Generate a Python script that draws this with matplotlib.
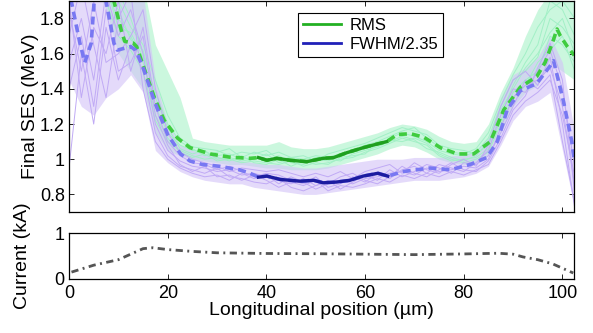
import numpy as np
import matplotlib
matplotlib.use('Agg')
import matplotlib.pyplot as plt

plt.rcParams['font.family'] = ['Liberation Sans', 'DejaVu Sans']

# sampling grid of the individual shots (um)
pos = [0, 2.5, 5, 7.5, 10, 12.5, 15, 17.5, 20, 22.5, 25, 27.5, 30, 32.5, 35,
       37.5, 40, 42.5, 45, 47.5, 50, 52.5, 55, 57.5, 60, 62.5, 65, 67.5, 70,
       72.5, 75, 77.5, 80, 82.5, 85, 87.5, 90, 92.5, 95, 97.5, 100, 102.5]

# spread of all FWHM/2.35 shots (MeV)
fwhm_low = [1.45, 1.30, 1.25, 1.35, 1.40, 1.48, 1.38, 1.05, 0.98, 0.93, 0.90,
            0.88, 0.87, 0.86, 0.86, 0.84, 0.83, 0.82, 0.81, 0.80, 0.80, 0.81,
            0.82, 0.83, 0.84, 0.85, 0.86, 0.87, 0.88, 0.88, 0.88, 0.89, 0.90,
            0.92, 0.96, 1.08, 1.22, 1.30, 1.33, 1.38, 1.05, 0.72]
fwhm_high = [2.1, 2.1, 2.1, 2.1, 2.1, 2.1, 1.95, 1.45, 1.20, 1.08, 1.05, 1.03,
             1.02, 1.00, 0.99, 0.98, 0.97, 0.97, 0.96, 0.95, 0.95, 0.96, 0.97,
             0.98, 0.99, 1.00, 1.00, 1.00, 1.01, 1.01, 1.01, 1.02, 1.02, 1.05,
             1.12, 1.35, 1.48, 1.52, 1.58, 1.70, 1.55, 1.15]

# spread of all RMS shots (MeV)
rms_low = [2.0, 2.0, 2.0, 1.85, 1.60, 1.50, 1.40, 1.15, 1.05, 1.02, 1.00, 0.99,
           0.98, 0.97, 0.97, 0.96, 0.95, 0.95, 0.94, 0.94, 0.94, 0.95, 0.97,
           0.99, 1.01, 1.03, 1.06, 1.08, 1.07, 1.04, 1.00, 0.98, 0.97, 0.98,
           1.02, 1.15, 1.30, 1.38, 1.42, 1.55, 1.50, 1.45]
rms_high = [2.1, 2.1, 2.1, 2.1, 2.1, 2.1, 2.0, 1.65, 1.50, 1.35, 1.12, 1.10,
            1.09, 1.08, 1.08, 1.08, 1.08, 1.10, 1.07, 1.06, 1.06, 1.07, 1.09,
            1.11, 1.13, 1.15, 1.18, 1.20, 1.19, 1.17, 1.13, 1.10, 1.09, 1.10,
            1.20, 1.38, 1.52, 1.70, 1.85, 1.95, 1.95, 1.90]

# a few single shots
fwhm_shots = [
    [1.55, 1.80, 1.45, 1.95, 1.70, 1.85, 1.60, 1.20, 1.05, 0.99, 0.96, 0.95, 0.93, 0.94,
     0.91, 0.92, 0.90, 0.88, 0.86, 0.89, 0.85, 0.87, 0.88, 0.86, 0.89, 0.90, 0.92, 0.93,
     0.91, 0.95, 0.93, 0.94, 0.96, 0.95, 1.00, 1.18, 1.35, 1.42, 1.45, 1.52, 1.30, 0.85],
    [1.90, 1.35, 1.75, 1.60, 1.90, 1.50, 1.75, 1.30, 1.10, 1.02, 0.98, 0.97, 0.94, 0.96,
     0.93, 0.90, 0.92, 0.91, 0.88, 0.86, 0.90, 0.84, 0.86, 0.90, 0.87, 0.92, 0.89, 0.94,
     0.96, 0.92, 0.97, 0.95, 0.93, 0.98, 1.05, 1.25, 1.40, 1.38, 1.50, 1.62, 1.40, 0.95],
    [0.95, 1.60, 1.20, 1.75, 1.45, 1.65, 1.50, 1.15, 1.02, 0.96, 0.94, 0.92, 0.95, 0.90,
     0.89, 0.87, 0.86, 0.89, 0.84, 0.82, 0.85, 0.88, 0.83, 0.87, 0.91, 0.88, 0.94, 0.90,
     0.93, 0.97, 0.95, 0.92, 0.98, 0.97, 1.02, 1.15, 1.30, 1.45, 1.40, 1.48, 1.10, 0.75],
    [1.70, 2.00, 1.65, 1.35, 1.80, 1.95, 1.40, 1.10, 1.00, 0.95, 0.92, 0.90, 0.91, 0.88,
     0.92, 0.89, 0.91, 0.86, 0.90, 0.87, 0.83, 0.86, 0.90, 0.92, 0.88, 0.86, 0.90, 0.96,
     0.92, 0.90, 0.94, 0.98, 0.94, 0.93, 0.99, 1.12, 1.28, 1.36, 1.52, 1.66, 1.45, 0.80],
    [1.85, 1.50, 1.90, 1.55, 1.60, 1.70, 1.85, 1.40, 1.15, 1.04, 1.00, 0.98, 0.96, 0.93,
     0.95, 0.94, 0.93, 0.94, 0.92, 0.90, 0.92, 0.90, 0.93, 0.89, 0.93, 0.95, 0.97, 0.92,
     0.98, 0.94, 0.92, 0.97, 1.00, 0.96, 1.08, 1.30, 1.45, 1.50, 1.42, 1.58, 1.20, 0.72],
    [1.40, 1.70, 1.30, 1.85, 1.50, 1.55, 1.70, 1.25, 1.08, 0.97, 0.93, 0.96, 0.90, 0.91,
     0.88, 0.91, 0.88, 0.84, 0.87, 0.85, 0.88, 0.82, 0.85, 0.84, 0.86, 0.89, 0.87, 0.91,
     0.89, 0.92, 0.90, 0.93, 0.91, 0.94, 0.97, 1.10, 1.25, 1.33, 1.38, 1.45, 1.25, 0.90],
]
rms_shots = [
    [2.05, 2.10, 2.05, 1.95, 1.80, 1.70, 1.55, 1.30, 1.15, 1.08, 1.05, 1.04, 1.02, 1.03,
     1.00, 1.01, 0.99, 1.02, 0.98, 0.97, 1.00, 0.99, 1.02, 1.04, 1.06, 1.08, 1.12, 1.15,
     1.13, 1.10, 1.05, 1.03, 1.02, 1.04, 1.12, 1.30, 1.45, 1.50, 1.58, 1.80, 1.75, 1.65],
    [2.10, 2.05, 2.10, 2.00, 1.90, 1.75, 1.65, 1.45, 1.25, 1.12, 1.07, 1.06, 1.05, 1.02,
     1.04, 1.03, 1.05, 1.00, 1.01, 1.02, 0.99, 1.03, 1.05, 1.07, 1.09, 1.12, 1.15, 1.18,
     1.16, 1.14, 1.08, 1.06, 1.05, 1.03, 1.08, 1.25, 1.42, 1.55, 1.65, 1.90, 1.85, 1.70],
    [2.00, 2.05, 2.00, 1.90, 1.70, 1.62, 1.50, 1.22, 1.10, 1.05, 1.02, 1.00, 1.01, 0.99,
     1.02, 0.98, 0.97, 1.00, 0.96, 0.99, 0.97, 0.98, 1.00, 1.01, 1.04, 1.06, 1.09, 1.12,
     1.10, 1.08, 1.02, 0.99, 1.00, 1.01, 1.06, 1.22, 1.38, 1.45, 1.50, 1.70, 1.65, 1.55],
    [2.10, 2.10, 2.05, 2.05, 1.95, 1.80, 1.60, 1.38, 1.20, 1.10, 1.06, 1.02, 1.04, 1.06,
     1.01, 1.04, 1.02, 1.04, 1.01, 1.00, 1.02, 1.01, 1.03, 1.05, 1.08, 1.10, 1.13, 1.16,
     1.18, 1.12, 1.07, 1.04, 1.03, 1.06, 1.15, 1.33, 1.48, 1.60, 1.75, 1.85, 1.90, 1.80],
    [2.05, 2.00, 2.10, 1.92, 1.85, 1.68, 1.62, 1.35, 1.18, 1.06, 1.03, 1.05, 1.00, 1.01,
     0.99, 1.00, 1.03, 0.98, 1.00, 0.98, 1.01, 1.00, 0.99, 1.03, 1.05, 1.07, 1.10, 1.13,
     1.11, 1.06, 1.04, 1.01, 0.99, 1.02, 1.10, 1.28, 1.40, 1.52, 1.60, 1.72, 1.80, 1.60],
    [2.10, 2.10, 2.00, 1.98, 1.75, 1.72, 1.58, 1.25, 1.12, 1.04, 1.01, 1.03, 0.99, 1.00,
     0.98, 0.99, 0.98, 0.97, 0.99, 0.96, 0.98, 0.97, 1.01, 1.02, 1.03, 1.09, 1.11, 1.10,
     1.12, 1.09, 1.03, 1.00, 0.98, 1.00, 1.04, 1.20, 1.35, 1.42, 1.55, 1.62, 1.70, 1.50],
]

# shot averages
rms_x = [8.5, 9.0, 10.7, 11.3, 13.0, 13.7, 15.3, 17.3, 19.3, 22, 24.5, 28.6, 32.5,
         36.7, 38.4, 40.1, 42.1, 44.8, 48.2, 51.5, 53.6, 56.3, 59.7, 62.4, 64.4,
         66.5, 69.2, 71.9, 75.3, 78.7, 82, 85.4, 88.1, 91.5, 94.8, 96.5, 98.2,
         98.9, 99.6, 101, 102.4]
rms_mean = [2.0, 1.91, 1.72, 1.67, 1.66, 1.64, 1.51, 1.35, 1.22, 1.12, 1.066, 1.03,
            1.012, 1.005, 1.009, 0.994, 1.005, 0.994, 0.986, 1.005, 1.009, 1.037,
            1.066, 1.086, 1.10, 1.14, 1.145, 1.125, 1.065, 1.03, 1.03, 1.10, 1.28,
            1.41, 1.47, 1.55, 1.68, 1.74, 1.70, 1.64, 1.59]
fwhm_x = [0.3, 2.2, 3.2, 4.5, 5.1, 6.3, 7.5, 9.1, 9.8, 12.5, 13.5, 14.9, 17.3, 20,
          22.6, 24.5, 27, 30.4, 34.5, 36.7, 38.4, 40.1, 42.8, 46.9, 49.6, 51.5,
          54.2, 56.9, 59.6, 62.6, 64.6, 67.8, 73.2, 77.3, 81.3, 84.7, 86.8, 88.8,
          91.5, 94.8, 97.5, 98.2, 100.2, 101.9, 102.4]
fwhm_mean = [1.92, 1.66, 1.55, 1.66, 1.90, 2.05, 1.90, 1.66, 1.62, 1.64, 1.62, 1.53,
             1.33, 1.14, 1.03, 0.99, 0.97, 0.96, 0.94, 0.92, 0.898, 0.904, 0.885,
             0.875, 0.88, 0.866, 0.87, 0.88, 0.904, 0.92, 0.904, 0.93, 0.95, 0.94,
             0.97, 1.01, 1.10, 1.28, 1.39, 1.43, 1.53, 1.56, 1.33, 1.10, 0.99]

# core region drawn solid
core = (38.0, 64.8)

# beam current
cur_x = [0.5, 5, 10, 15, 17, 20, 25, 30, 40, 50, 60, 70, 80, 87, 90, 92, 95, 98, 102.2]
cur_kA = [0.15, 0.30, 0.42, 0.66, 0.68, 0.64, 0.60, 0.57, 0.555, 0.55, 0.54, 0.53,
          0.545, 0.56, 0.54, 0.48, 0.42, 0.33, 0.13]

fig = plt.figure(figsize=(5.93, 3.33), dpi=100)
ax = fig.add_axes([0.1164, 0.3634, 0.852, 0.634])
ax2 = fig.add_axes([0.1164, 0.1622, 0.852, 0.138])

ax.fill_between(pos, rms_low, rms_high, color='#bff5d6', alpha=0.8, lw=0)
ax.fill_between(pos, fwhm_low, fwhm_high, color='#d2c2f8', alpha=0.6, lw=0)
for s in rms_shots:
    ax.plot(pos, s, color='#a2f0c6', lw=0.7)
for s in fwhm_shots:
    ax.plot(pos, s, color='#c0aaf5', lw=0.7)

ax.plot(rms_x, rms_mean, color='#3fcc3f', lw=2.6, dashes=(2.2, 1.4))
ax.plot(fwhm_x, fwhm_mean, color='#7878f2', lw=2.6, dashes=(2.2, 1.4))

rx = np.array(rms_x)
fx = np.array(fwhm_x)
m = (rx >= core[0]) & (rx <= core[1])
ax.plot(rx[m], np.array(rms_mean)[m], color='#1f9f1f', lw=2.4)
m = (fx >= core[0]) & (fx <= core[1])
ax.plot(fx[m], np.array(fwhm_mean)[m], color='#1c1ca0', lw=2.4)

# legend uses slightly brighter line colours
h1, = ax.plot([], [], color='#22b022', lw=2)
h2, = ax.plot([], [], color='#2020b8', lw=2)
leg = ax.legend([h1, h2], ['RMS', 'FWHM/2.35'], loc='upper left',
                bbox_to_anchor=(0.453, 0.943), fontsize=12, fancybox=False,
                framealpha=1, edgecolor='black', handlelength=2.3,
                borderpad=0.3, labelspacing=0.25, borderaxespad=0,
                handletextpad=0.5)
leg.get_frame().set_linewidth(0.8)

ax.set_xlim(0, 102.4)
ax.set_ylim(0.7, 1.9)
ax.set_yticks([0.8, 1.0, 1.2, 1.4, 1.6, 1.8])
ax.set_yticklabels(['0.8', '1', '1.2', '1.4', '1.6', '1.8'])
ax.set_xticks([0, 20, 40, 60, 80, 100])
ax.set_xticklabels([])
ax.set_ylabel('Final SES (MeV)', fontsize=14)

ax2.plot(cur_x, cur_kA, color='#555555', lw=2, dashes=(2.6, 1.6, 0.7, 1.6))
ax2.set_xlim(0, 102.4)
ax2.set_ylim(0, 1)
ax2.set_yticks([0, 1])
ax2.set_xticks([0, 20, 40, 60, 80, 100])
ax2.set_ylabel('Current (kA)', fontsize=14)
ax2.set_xlabel('Longitudinal position (\u00b5m)', fontsize=14, labelpad=0)

for a in (ax, ax2):
    a.tick_params(direction='in', top=True, right=True, length=3.5,
                  width=0.6, labelsize=13, pad=3)
    for sp in a.spines.values():
        sp.set_linewidth(0.9)
ax2.tick_params(axis='x', pad=4)

ax.yaxis.set_label_coords(-0.06, 0.5)
ax2.yaxis.set_label_coords(-0.075, 0.5)

fig.savefig('out.png', dpi=100)
